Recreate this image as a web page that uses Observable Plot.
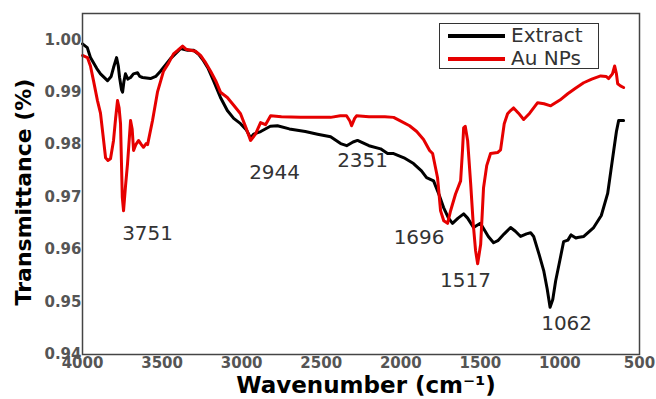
<!DOCTYPE html>
<html><head><meta charset="utf-8">
<script src="https://cdn.jsdelivr.net/npm/d3@7"></script>
<script src="https://cdn.jsdelivr.net/npm/@observablehq/plot@0.6"></script>
<style>
body{margin:0;background:#fff;}
#wrap{position:relative;width:656px;height:399px;font-family:"DejaVu Sans",sans-serif;}
#legend{position:absolute;left:439px;top:23px;width:160px;height:46px;box-sizing:border-box;border:1.5px solid #333;background:#fff;}
#legend .row{position:absolute;left:0;height:23px;display:flex;align-items:center;}
#legend .sw{position:absolute;left:8px;width:57px;height:4px;}
#legend .lab{position:absolute;left:71px;font-size:20px;color:#333;white-space:nowrap;line-height:23px;}
</style></head><body>
<div id="wrap"><div id="chart"></div><div id="legend"></div></div>
<script>
// Series: Extract (black)
const extractWn = [4000,3970,3950,3910,3887,3843,3820,3805,3786,3775,3767,3755,3748,3740,3730,3715,3698,3680,3654,3640,3623,3573,3540,3510,3447,3384,3340,3302,3270,3240,3210,3177,3133,3090,3050,3007,2970,2944,2925,2880,2820,2775,2700,2600,2523,2441,2378,2340,2300,2272,2200,2127,2083,2045,1980,1920,1870,1838,1794,1760,1731,1700,1675,1640,1605,1580,1543,1500,1480,1450,1417,1390,1350,1310,1280,1247,1210,1184,1165,1130,1102,1080,1062,1045,1027,1000,977,950,930,900,889,850,788,740,700,680,662,645,631,600];
const extractT = [0.9992,0.9985,0.9966,0.9945,0.9935,0.9922,0.9930,0.9947,0.9966,0.9950,0.9928,0.9905,0.9900,0.9920,0.9935,0.9925,0.9928,0.9935,0.9937,0.9930,0.9928,0.9926,0.9930,0.9940,0.9964,0.9983,0.9980,0.9980,0.9972,0.9960,0.9945,0.9922,0.9890,0.9865,0.9850,0.9840,0.9828,0.9813,0.9820,0.9825,0.9835,0.9836,0.9830,0.9825,0.9820,0.9815,0.9802,0.9798,0.9805,0.9808,0.9798,0.9792,0.9783,0.9783,0.9775,0.9764,0.9750,0.9737,0.9731,0.9705,0.9680,0.9660,0.9650,0.9660,0.9668,0.9660,0.9642,0.9650,0.9640,0.9625,0.9613,0.9617,0.9630,0.9642,0.9635,0.9625,0.9630,0.9632,0.9625,0.9590,0.9560,0.9525,0.9490,0.9505,0.9540,0.9580,0.9615,0.9618,0.9628,0.9622,0.9623,0.9625,0.9642,0.9665,0.9707,0.9750,0.9789,0.9825,0.9846,0.9846];
// Series: Au NPs (red)
const auWn = [4000,3969,3950,3931,3906,3887,3870,3855,3840,3824,3805,3792,3780,3770,3761,3750,3742,3730,3717,3698,3688,3679,3665,3648,3630,3617,3600,3591,3560,3529,3491,3460,3428,3400,3371,3350,3321,3290,3258,3230,3195,3160,3133,3090,3050,3007,2970,2944,2913,2881,2850,2818,2750,2630,2500,2441,2380,2341,2320,2309,2290,2278,2200,2100,2045,2000,1945,1900,1857,1819,1800,1769,1750,1730,1706,1687,1656,1624,1612,1605,1595,1580,1561,1545,1530,1517,1498,1480,1460,1436,1392,1373,1350,1329,1310,1291,1260,1228,1190,1140,1100,1058,1000,951,900,851,800,744,710,694,670,656,645,637,620,600];
const auT = [0.9970,0.9966,0.9950,0.9922,0.9884,0.9860,0.9815,0.9775,0.9770,0.9773,0.9808,0.9850,0.9884,0.9870,0.9840,0.9700,0.9674,0.9720,0.9764,0.9846,0.9830,0.9789,0.9800,0.9808,0.9800,0.9795,0.9802,0.9800,0.9846,0.9900,0.9940,0.9955,0.9973,0.9980,0.9988,0.9982,0.9980,0.9978,0.9970,0.9958,0.9940,0.9920,0.9900,0.9890,0.9875,0.9859,0.9830,0.9808,0.9820,0.9842,0.9838,0.9855,0.9853,0.9852,0.9852,0.9852,0.9855,0.9855,0.9845,0.9836,0.9850,0.9855,0.9853,0.9853,0.9852,0.9845,0.9836,0.9825,0.9810,0.9789,0.9783,0.9737,0.9674,0.9655,0.9650,0.9674,0.9706,0.9731,0.9790,0.9832,0.9835,0.9808,0.9726,0.9650,0.9598,0.9573,0.9610,0.9718,0.9760,0.9783,0.9785,0.9790,0.9840,0.9859,0.9865,0.9870,0.9860,0.9848,0.9860,0.9880,0.9878,0.9874,0.9885,0.9897,0.9908,0.9918,0.9925,0.9931,0.9930,0.9926,0.9935,0.9950,0.9935,0.9916,0.9912,0.9909];

const seriesNames = ["Extract", "Au NPs"];
const seriesColors = ["#000000", "#e60000"];
const xTicks = [4000,3500,3000,2500,2000,1500,1000,500];
const yTicks = [0.94,0.95,0.96,0.97,0.98,0.99,1.00];
const xTitle = "Wavenumber (cm\u207B\u00B9)";
const yTitle = "Transmittance (%)";
// Peak annotations (label, placement in wavenumber / transmittance)
const peakLabels = ["3751","2944","2351","1696","1517","1062"];
const peakLabelWn = [3591, 2793, 2240, 1885, 1593, 958];
const peakLabelT = [0.9630, 0.9747, 0.9770, 0.9623, 0.9541, 0.9459];

const extract = extractWn.map((w,i)=>({wn:w, t:extractT[i], s:seriesNames[0]}));
const au = auWn.map((w,i)=>({wn:w, t:auT[i], s:seriesNames[1]}));
const peaks = peakLabels.map((l,i)=>({label:l, wn:peakLabelWn[i], t:peakLabelT[i]}));

const chart = Plot.plot({
  width: 656, height: 399,
  marginLeft: 82, marginRight: 17, marginTop: 13, marginBottom: 45,
  style: {fontFamily: "'DejaVu Sans', sans-serif", background: "#fff", overflow: "visible"},
  x: {domain: [4000, 500]},
  y: {domain: [0.94, 1.005]},
  marks: [
    Plot.axisX(xTicks, {tickSize: 0, tickPadding: 3, fontSize: 15, fontWeight: "bold", fill: "#555", label: null, tickFormat: d => String(d)}),
    Plot.axisY(yTicks, {tickSize: 0, tickPadding: 1, fontSize: 15, fontWeight: "bold", fill: "#555", label: null, tickFormat: d3.format(".2f")}),
    Plot.line(extract, {x: "wn", y: "t", stroke: seriesColors[0], strokeWidth: 3, strokeLinejoin: "round"}),
    Plot.line(au, {x: "wn", y: "t", stroke: seriesColors[1], strokeWidth: 3, strokeLinejoin: "round"}),
    Plot.text(peaks, {x: "wn", y: "t", text: "label", fontSize: 20, fill: "#333"}),
    Plot.frame({stroke: "#444", strokeWidth: 1.5}),
    Plot.text([yTitle], {text: d => d, frameAnchor: "left", textAnchor: "middle", lineAnchor: "middle", rotate: -90, dx: -59, dy: 8, fontSize: 22, fontWeight: "bold", fill: "#000"}),
    Plot.text([xTitle], {text: d => d, frameAnchor: "bottom", textAnchor: "middle", lineAnchor: "middle", dy: 31, dx: 5, fontSize: 23, fontWeight: "bold", fill: "#000"})
  ]
});
document.getElementById("chart").appendChild(chart);

const leg = document.getElementById("legend");
seriesNames.forEach((n, i) => {
  const row = document.createElement("div");
  row.className = "row";
  row.style.top = (i * 23) + "px";
  row.innerHTML = `<span class="sw" style="background:${seriesColors[i]};top:9.5px"></span><span class="lab">${n}</span>`;
  row.style.width = "100%";
  leg.appendChild(row);
});
</script>
</body></html>
